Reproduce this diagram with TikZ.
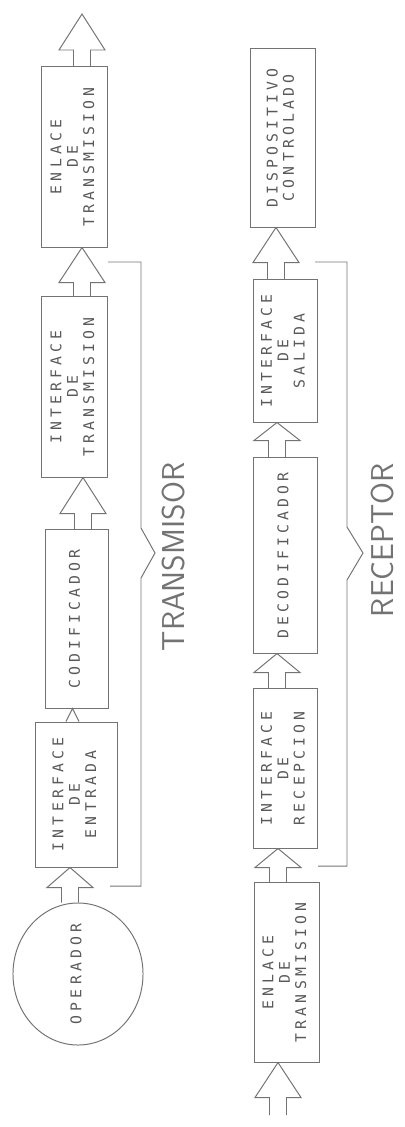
\documentclass[tikz,border=0pt]{standalone}
\usepackage{fontspec}
\usetikzlibrary{calc,shapes.geometric}
\newfontfamily\plotfont[LetterSpace=28]{DejaVu Sans Mono}
\definecolor{plotgray}{rgb}{0.45,0.45,0.45}
\definecolor{inkgray}{rgb}{0.35,0.35,0.35}

\tikzset{
  block/.style={draw=plotgray, line width=0.7pt, inner sep=0pt, text=inkgray},
  hollow/.style={draw=plotgray, line width=0.7pt, line join=miter},
  bracket/.style={draw=plotgray, line width=0.7pt},
  tag/.style={text=plotgray, rotate=90, inner sep=0pt,
    font=\sffamily\fontsize{22.5}{24}\selectfont\addfontfeatures{LetterSpace=22}}
}

% rotated text inside a block
\newcommand{\blocktext}[1]{\rotatebox{90}{\plotfont\fontsize{10.5}{11.6}\selectfont
  \begin{tabular}{@{}c@{}}#1\end{tabular}}}

% hollow arrow: x centre, from, to, head length
\newcommand{\hollowarrow}[4]{%
  \draw[hollow] ($(#2 -| #1,0)+(-8.5,0)$) -- ($(#3 -| #1,0)+(-8.5,#4)$)
    -- ($(#3 -| #1,0)+(-23,#4)$) -- (#3 -| #1,0)
    -- ($(#3 -| #1,0)+(23,#4)$) -- ($(#3 -| #1,0)+(8.5,#4)$)
    -- ($(#2 -| #1,0)+(8.5,0)$);
}

\begin{document}
\begin{tikzpicture}[x=0.025cm,y=-0.025cm]
\useasboundingbox (0,0) rectangle (405,1127);

% transmisor
\node[block, minimum width=1.625cm, minimum height=4.5cm] (enltx) at (74.5,157)
  {\blocktext{ENLACE\\DE\\TRANSMISION}};
\node[block, minimum width=1.625cm, minimum height=4.5cm] (inttx) at (74.5,387)
  {\blocktext{INTERFACE\\DE\\TRANSMISION}};
\node[block, minimum width=1.575cm, minimum height=4.45cm] (codif) at (76.5,619)
  {\blocktext{CODIFICADOR}};
\node[block, minimum width=2.025cm, minimum height=3.625cm] (intin) at (76.5,794.5)
  {\blocktext{INTERFACE\\DE\\ENTRADA}};
\node[block, ellipse, minimum width=3.25cm, minimum height=3.55cm] (oper) at (78,974)
  {\blocktext{OPERADOR}};
\coordinate (txout) at (82,14);

\hollowarrow{82}{enltx.north}{txout}{36}
\hollowarrow{82}{inttx.north}{enltx.south}{35}
\hollowarrow{83}{codif.north}{inttx.south}{36}
\draw[hollow] (intin.north -| 66,0) -- (codif.south -| 72.5,0) -- (intin.north -| 79,0);
\hollowarrow{70}{oper.north}{intin.south}{20}

\draw[bracket] (108,262) -- (141,262) -- (141,528) -- (155,553) -- (141,578)
  -- (141,886) -- (110,886);
\node[tag] (txtag) at (174,557) {TRANSMISOR};

% receptor
\node[block, minimum width=1.625cm, minimum height=4.45cm] (disp) at (282.5,138)
  {\blocktext{DISPOSITIVO\\CONTROLADO}};
\node[block, minimum width=1.6cm, minimum height=3.55cm] (intsal) at (285,351)
  {\blocktext{INTERFACE\\DE\\SALIDA}};
\node[block, minimum width=1.6cm, minimum height=4.875cm] (decod) at (285,555.5)
  {\blocktext{DECODIFICADOR}};
\node[block, minimum width=1.6cm, minimum height=3.975cm] (intrec) at (285,768.5)
  {\blocktext{INTERFACE\\DE\\RECEPCION}};
\node[block, minimum width=1.625cm, minimum height=4.475cm] (enlrx) at (286.5,972.5)
  {\blocktext{ENLACE\\DE\\TRANSMISION}};
\coordinate (rxin) at (278,1115);

\hollowarrow{278}{rxin}{enlrx.south}{35}
\hollowarrow{278}{enlrx.north}{intrec.south}{19}
\hollowarrow{277}{intrec.north}{decod.south}{19}
\hollowarrow{277}{decod.north}{intsal.south}{18}
\hollowarrow{276}{intsal.north}{disp.south}{35}

\draw[bracket] (315,262) -- (347,262) -- (347,527) -- (363,553) -- (347,580)
  -- (347,866) -- (318,866);
\node[tag] (rxtag) at (383,540) {RECEPTOR};
\end{tikzpicture}
\end{document}
